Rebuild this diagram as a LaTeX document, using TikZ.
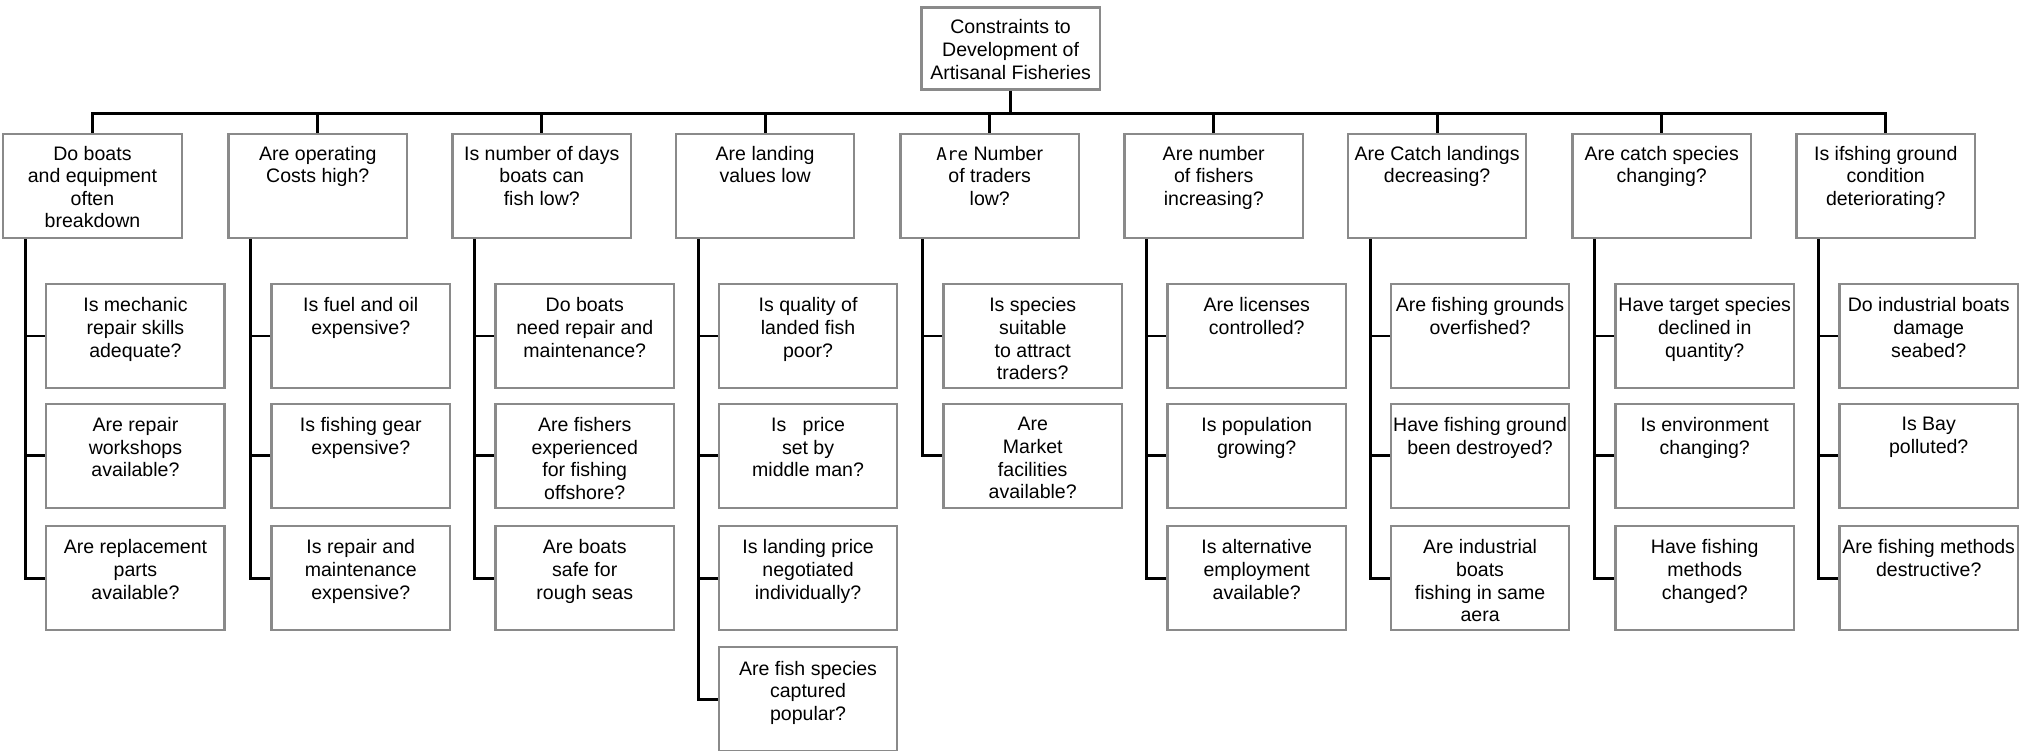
\documentclass[tikz,border=0pt]{standalone}
\usepackage{fontspec}
\setmainfont{Liberation Sans}
\newfontfamily\monof{DejaVu Sans Mono}
\definecolor{boxgray}{HTML}{8A8A8A}
\newcommand\qt[3]{\parbox[t][#1][t]{134pt}{\centering\vspace*{#2}#3\par}}
\newcommand\pt[1]{\qt{80pt}{9pt}{#1}}
\newcommand\ct[1]{\qt{80pt}{10.5pt}{#1}}
\tikzset{
  qbox/.style={draw=boxgray, line width=1.8pt, fill=white, inner sep=0pt, rectangle, minimum width=137pt},
  link/.style={line width=2.2pt, black}
}
\begin{document}
\begin{tikzpicture}[x=1pt,y=-1pt,font=\fontsize{15}{17.4}\selectfont]
\useasboundingbox (0,0) rectangle (1568,576);
\fill[white] (0,0) rectangle (1568,576);
% top
\node[qbox] (top) at (776,37.2) {\qt{63pt}{9.5pt}{Constraints to\\Development of\\Artisanal Fisheries}};
\coordinate (bus) at (776,87);
% parents
\node[qbox] (p1) at (71,143) {\pt{Do boats\\and equipment\\often\\breakdown}};
\node[qbox] (p2) at (244,143) {\pt{Are operating\\Costs high?}};
\node[qbox] (p3) at (416,143) {\pt{Is number of days\\boats can\\fish low?}};
\node[qbox] (p4) at (587.5,143) {\pt{Are landing\\values low}};
\node[qbox] (p5) at (760,143) {\pt{{\monof\fontsize{13.5}{17}\selectfont Are} Number\\of traders\\low?}};
\node[qbox] (p6) at (932,143) {\pt{Are number\\of fishers\\increasing?}};
\node[qbox] (p7) at (1103.5,143) {\pt{Are Catch landings\\decreasing?}};
\node[qbox] (p8) at (1276,143) {\pt{Are catch species\\changing?}};
\node[qbox] (p9) at (1448,143) {\pt{Is ifshing ground\\condition\\deteriorating?}};
% children col 1
\node[qbox] (c11) at (104,258) {\ct{Is mechanic\\repair skills\\adequate?}};
\node[qbox] (c12) at (104,350) {\ct{Are repair\\workshops\\available?}};
\node[qbox] (c13) at (104,444) {\ct{Are replacement\\parts\\available?}};
% col 2
\node[qbox] (c21) at (277,258) {\ct{Is fuel and oil\\expensive?}};
\node[qbox] (c22) at (277,350) {\ct{Is fishing gear\\expensive?}};
\node[qbox] (c23) at (277,444) {\ct{Is repair and\\maintenance\\expensive?}};
% col 3
\node[qbox] (c31) at (449,258) {\ct{Do boats\\need repair and\\maintenance?}};
\node[qbox] (c32) at (449,350) {\ct{Are fishers\\experienced\\for fishing\\offshore?}};
\node[qbox] (c33) at (449,444) {\ct{Are boats\\safe for\\rough seas}};
% col 4
\node[qbox] (c41) at (620.5,258) {\ct{Is quality of\\landed fish\\poor?}};
\node[qbox] (c42) at (620.5,350) {\ct{Is\ \ \ price\\set by\\middle man?}};
\node[qbox] (c43) at (620.5,444) {\ct{Is landing price\\negotiated\\individually?}};
\node[qbox] (c44) at (620.5,537) {\ct{Are fish species\\captured\\popular?}};
% col 5
\node[qbox] (c51) at (793,258) {\ct{Is species\\suitable\\to attract\\traders?}};
\node[qbox] (c52) at (793,350) {\ct{Are\\Market\\facilities\\available?}};
% col 6
\node[qbox] (c61) at (965,258) {\ct{Are licenses\\controlled?}};
\node[qbox] (c62) at (965,350) {\ct{Is population\\growing?}};
\node[qbox] (c63) at (965,444) {\ct{Is alternative\\employment\\available?}};
% col 7
\node[qbox] (c71) at (1136.5,258) {\ct{Are fishing grounds\\overfished?}};
\node[qbox] (c72) at (1136.5,350) {\ct{Have fishing ground\\been destroyed?}};
\node[qbox] (c73) at (1136.5,444) {\ct{Are industrial\\boats\\fishing in same\\aera}};
% col 8
\node[qbox] (c81) at (1309,258) {\ct{Have target species\\declined in\\quantity?}};
\node[qbox] (c82) at (1309,350) {\ct{Is environment\\changing?}};
\node[qbox] (c83) at (1309,444) {\ct{Have fishing\\methods\\changed?}};
% col 9
\node[qbox] (c91) at (1481,258) {\ct{Do industrial boats\\damage\\seabed?}};
\node[qbox] (c92) at (1481,350) {\ct{Is Bay\\polluted?}};
\node[qbox] (c93) at (1481,444) {\ct{Are fishing methods\\destructive?}};
% connectors
\draw[link] (top.south) -- (top.south |- bus);
\draw[link] (p1.north) -- (p1.north |- bus) -- (p9.north |- bus) -- (p9.north);
\foreach \p in {p2,p3,p4,p5,p6,p7,p8}{
  \draw[link] (\p.north |- bus) -- (\p.north);
}
\foreach \p/\cs in {p1/{c11,c12,c13}, p2/{c21,c22,c23}, p3/{c31,c32,c33}, p4/{c41,c42,c43,c44}, p5/{c51,c52}, p6/{c61,c62,c63}, p7/{c71,c72,c73}, p8/{c81,c82,c83}, p9/{c91,c92,c93}}{
  \foreach \c in \cs {
    \draw[link] ([xshift=18pt]\p.south west) |- (\c.west);
  }
}
\end{tikzpicture}
\end{document}
